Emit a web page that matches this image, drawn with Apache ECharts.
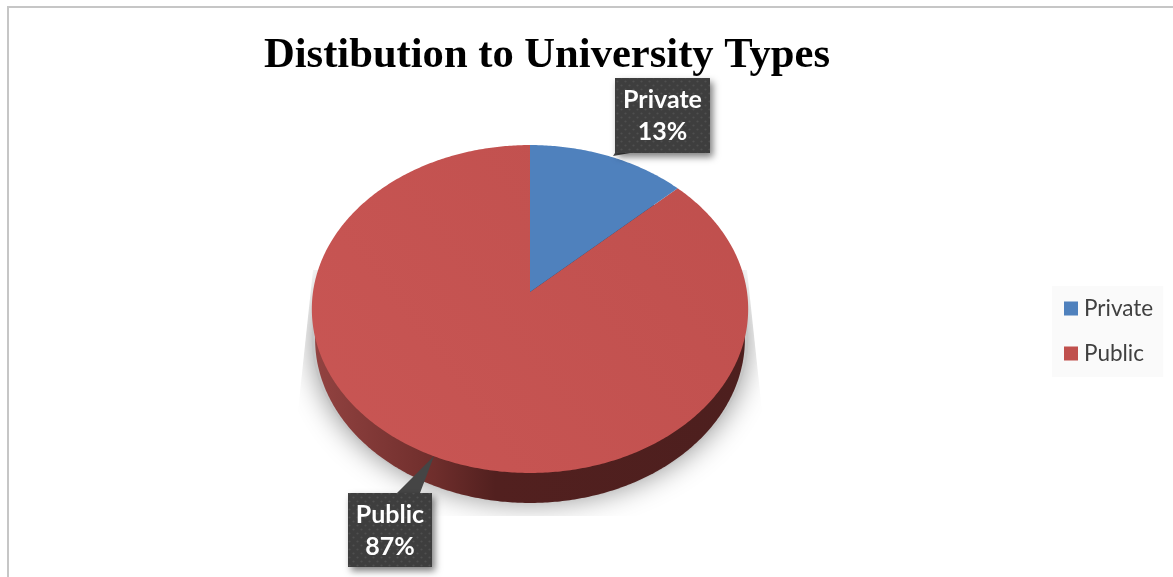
<!DOCTYPE html>
<html>
<head>
<meta charset="utf-8">
<style>html,body{margin:0;padding:0;background:#fff}#chart{width:1173px;height:577px}</style>
<script src="https://cdn.jsdelivr.net/npm/echarts@6/dist/echarts.min.js"></script>
</head>
<body>
<div id="chart"></div>
<script>
// Funding split by university type
const categories = ['Private', 'Public'];
const shares = [13, 87];
const chartTitle = 'Distibution to University Types';

// Tilted disc: unit circle pushed through a perspective projection
const disc = { cx: 530, cy: 292, rx: 217, ry: 162.2, tilt: -0.1037, depth: 30 };
const FRAME = '#c6c6c6';
const TILE = 8;

function project(u, v, widen, dy) {
  const w = 1 + disc.tilt * v;
  return [disc.cx + disc.rx * widen * u / w, disc.cy + disc.ry * v / w + dy];
}
// Share (percent, clockwise from twelve o'clock) to a point on the rim
function rim(pct, widen, dy) {
  const a = pct / 100 * 2 * Math.PI;
  return project(Math.sin(a), -Math.cos(a), widen, dy);
}
function rimArc(from, to, widen, dy) {
  const pts = [];
  const steps = Math.max(8, Math.round((to - from) * 6));
  for (let i = 0; i <= steps; i++) pts.push(rim(from + (to - from) * i / steps, widen, dy));
  return pts;
}

// Dotted fill of the callout boxes
function dotTile() {
  const c = document.createElement('canvas');
  c.width = c.height = TILE;
  const g = c.getContext('2d');
  g.fillStyle = '#3e3e3e';
  g.fillRect(0, 0, TILE, TILE);
  g.fillStyle = '#4f4f4f';
  [[1, 1], [5, 5]].forEach(function (p) {
    g.beginPath();
    g.arc(p[0] + 0.5, p[1] + 0.5, 1.1, 0, 7);
    g.fill();
  });
  return c;
}
const tile = dotTile();

const callouts = {
  Private: { x: 615, y: 78, w: 95, h: 75, pointer: [[615, 153], [630, 153], [613, 156]], line1: 100, line2: 132 },
  Public: { x: 348, y: 493, w: 84, h: 74, pointer: [[397, 493], [420, 493], [434, 456]], line1: 515, line2: 547 }
};

function calloutElements(name, pct) {
  const c = callouts[name];
  const textStyle = function (t, y) {
    return {
      type: 'text', z2: 30,
      style: {
        text: t, x: c.x + c.w / 2, y: y, align: 'center', verticalAlign: 'middle',
        fill: '#fff', font: 'bold 25px Lato'
      }
    };
  };
  return [
    { type: 'polygon', z2: 28, shape: { points: c.pointer }, style: { fill: '#454545' } },
    {
      type: 'rect', z2: 29,
      shape: { x: c.x, y: c.y, width: c.w, height: c.h },
      style: {
        fill: { image: tile, repeat: 'repeat' },
        shadowBlur: 7, shadowOffsetX: 3, shadowOffsetY: 4, shadowColor: 'rgba(0,0,0,0.5)'
      }
    },
    textStyle(name, c.line1),
    textStyle(pct + '%', c.line2)
  ];
}

// Soft ground shadow, trimmed to a straight-sided footprint below the disc's middle
function groundShadow() {
  const outline = rimArc(0, 100, 1.0, 30);
  return [
    {
      type: 'polygon', z2: 1, shape: { points: outline },
      style: { fill: '#c6c6c6', shadowBlur: 28, shadowColor: 'rgba(0,0,0,0.42)' }
    },
    { type: 'rect', z2: 2, shape: { x: 200, y: 90, width: 700, height: 180 }, style: { fill: '#fff' } },
    { type: 'polygon', z2: 2, shape: { points: [[0, 200], [316, 200], [313, 270], [297, 420], [270, 560], [0, 560]] }, style: { fill: '#fff' } },
    { type: 'polygon', z2: 2, shape: { points: [[1040, 200], [744, 200], [747, 270], [763, 420], [790, 560], [1040, 560]] }, style: { fill: '#fff' } },
    { type: 'rect', z2: 2, shape: { x: 200, y: 516, width: 700, height: 61 }, style: { fill: '#fff' } }
  ];
}

function sideWall() {
  return {
    type: 'polygon', z2: 5,
    shape: { points: rimArc(0, 100, 0.985, disc.depth) },
    style: {
      fill: {
        type: 'linear', x: 312, y: 0, x2: 748, y2: 0, global: true,
        colorStops: [
          { offset: 0, color: '#934341' },
          { offset: 0.28, color: '#6f2e2c' },
          { offset: 0.42, color: '#52201f' },
          { offset: 1, color: '#4d1f1e' }
        ]
      }
    }
  };
}

function sliceFill(name) {
  if (name === 'Private') return '#4f81bd';
  return {
    type: 'linear', x: 312, y: 473, x2: 748, y2: 145, global: true,
    colorStops: [{ offset: 0, color: '#c95654' }, { offset: 1, color: '#bf4f4d' }]
  };
}

function renderSlice(params, api) {
  const from = api.value(0);
  const to = api.value(1);
  const name = categories[params.seriesIndex];
  const pct = shares[params.seriesIndex];
  const top = {
    type: 'polygon', z2: 10,
    shape: { points: [project(0, 0, 1, 0)].concat(rimArc(from, to, 1, 0)) },
    style: { fill: sliceFill(name) }
  };
  const under = name === 'Public' ? groundShadow().concat([sideWall()]) : [];
  return { type: 'group', children: under.concat([top], calloutElements(name, pct)) };
}

let running = 0;
const sliceSeries = categories.map(function (name, i) {
  const start = running;
  running += shares[i];
  return {
    type: 'custom',
    name: name,
    coordinateSystem: 'none',
    z: i === 1 ? 1 : 3,
    silent: true,
    animation: false,
    itemStyle: { color: i === 0 ? '#4f81bd' : '#c0504d' },
    renderItem: renderSlice,
    data: [[start, running]]
  };
});

const chart = echarts.init(document.getElementById('chart'), null, { renderer: 'canvas' });
chart.setOption({
  animation: false,
  backgroundColor: '#fff',
  title: {
    text: chartTitle,
    left: 264, top: 34, padding: 0, z: 6,
    textStyle: { fontFamily: 'Liberation Serif', fontWeight: 'bold', fontSize: 42.6, color: '#000' }
  },
  legend: {
    orient: 'vertical',
    left: 1052, top: 286,
    padding: [11, 10, 12, 12],
    backgroundColor: '#fafafa',
    icon: 'rect',
    itemWidth: 14, itemHeight: 14, itemGap: 22,
    itemStyle: { borderWidth: 0 },
    selectedMode: false,
    textStyle: { fontFamily: 'Lato', fontSize: 22.5, color: '#404040', padding: [0, 0, 0, 1] },
    data: categories
  },
  graphic: [
    { type: 'rect', z: 10, shape: { x: 7, y: 6, width: 1166, height: 2 }, style: { fill: FRAME } },
    { type: 'rect', z: 10, shape: { x: 7, y: 6, width: 2, height: 571 }, style: { fill: FRAME } }
  ],
  series: sliceSeries
});
</script>
</body>
</html>
